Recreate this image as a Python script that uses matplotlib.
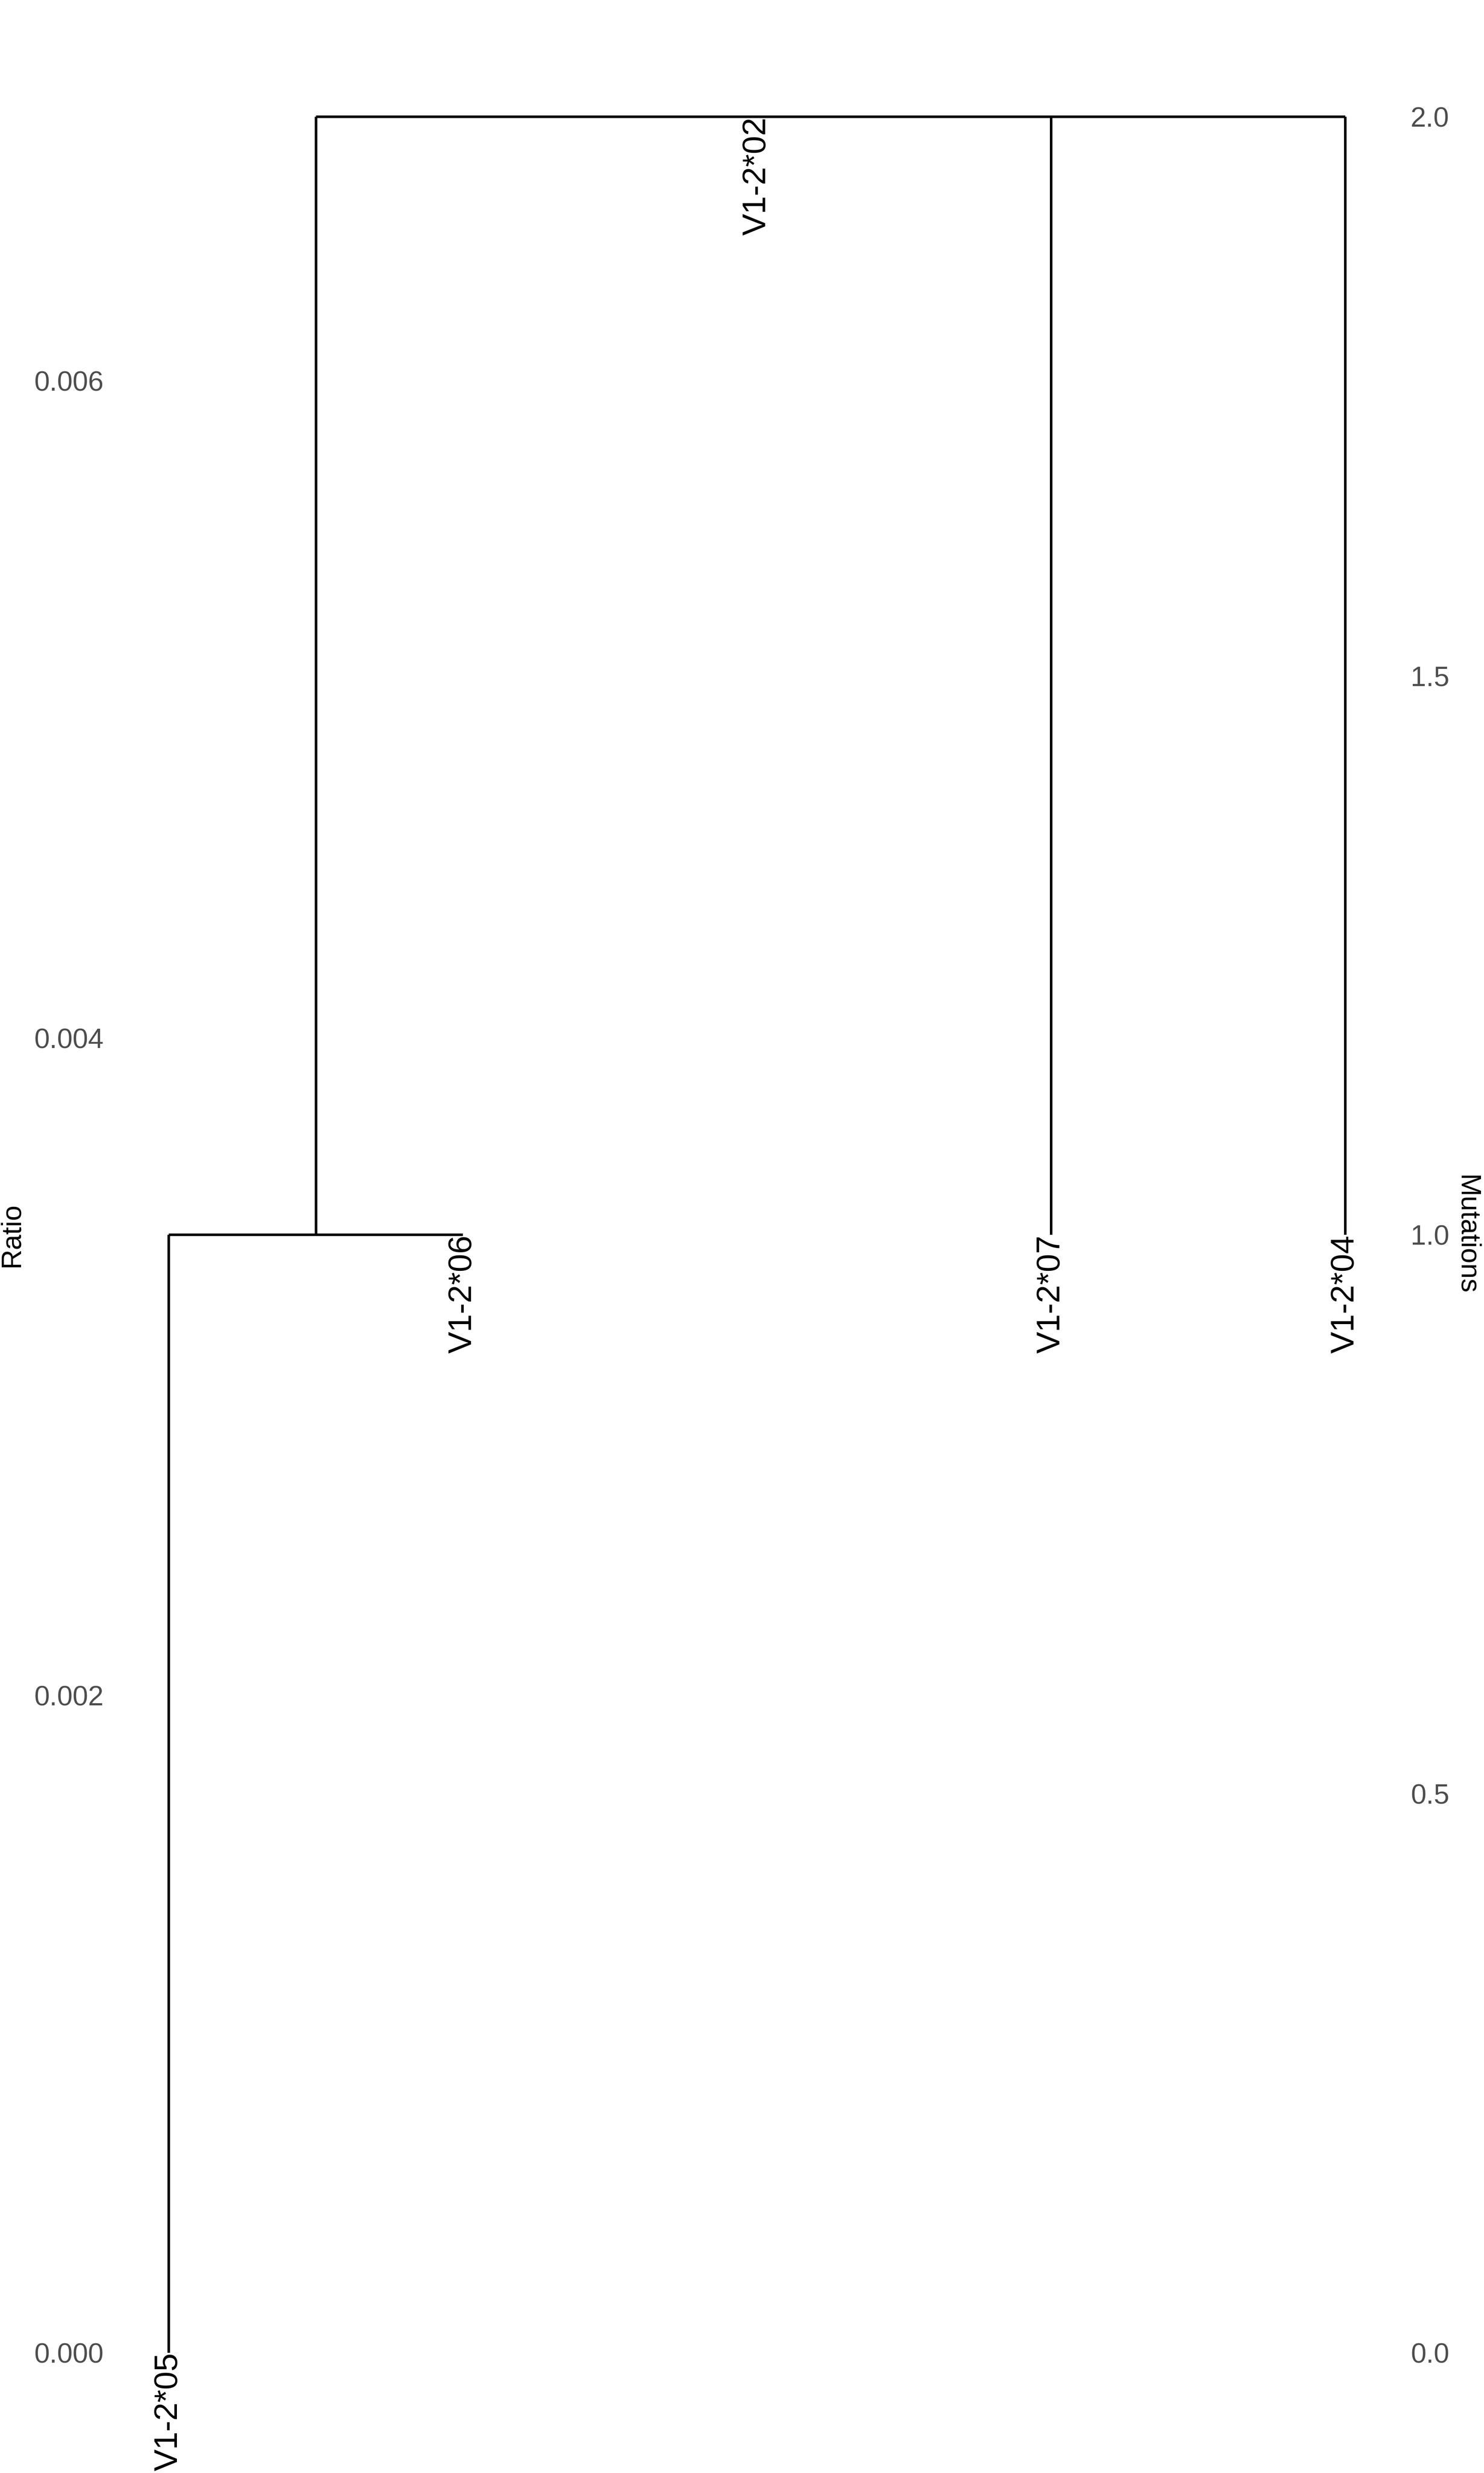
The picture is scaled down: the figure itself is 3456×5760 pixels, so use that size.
import matplotlib
matplotlib.use("Agg")
import matplotlib.pyplot as plt

plt.rcParams['font.family'] = ['Liberation Sans', 'DejaVu Sans']

# leaves of the tree (x order) and the height where each label hangs
leaves = ["V1-2*05", "V1-2*06", "V1-2*02", "V1-2*07", "V1-2*04"]
leaf_pos = [1, 2, 3, 4, 5]
leaf_height = [0, 1, 2, 1, 1]

# dendrogram segments, in mutations
seg_x = [1, 1, 1.5, 1.5, 4, 5]
seg_xend = [1, 2, 1.5, 5, 4, 5]
seg_y = [0, 1, 1, 2, 2, 2]
seg_yend = [1, 1, 2, 2, 1, 1]

seq_len = 294  # mutations -> ratio

W, H = 3456, 5760
fig = plt.figure(figsize=(W / 300, H / 300), dpi=300)
ax = fig.add_axes([256 / W, 20 / H, (3270 - 256) / W, (5740 - 12) / H])

for x0, x1, y0, y1 in zip(seg_x, seg_xend, seg_y, seg_yend):
    ax.plot([x0, x1], [y0, y1], color='black', lw=1.42, solid_capstyle='butt')

for name, x, h in zip(leaves, leaf_pos, leaf_height):
    ax.text(x, h, name, rotation=90, ha='center', va='top', fontsize=18.3,
            color='black', clip_on=False)

ax.set_xlim(0.8, 5.2)
ax.set_ylim(-0.1, 2.1)
ax.set_xticks([])
ax.yaxis.tick_right()
ax.yaxis.set_label_position('right')
ax.set_yticks([0, 0.5, 1.0, 1.5, 2.0])
ax.set_yticklabels(['0.0', '0.5', '1.0', '1.5', '2.0'])
ax.tick_params(axis='y', length=0, pad=3.6, labelsize=15.6, labelcolor='#4D4D4D')
ax.set_ylabel('Mutations', fontsize=15.4, rotation=-90, va='bottom', labelpad=2.4)
for s in ax.spines.values():
    s.set_visible(False)

sec = ax.secondary_yaxis('left', functions=(lambda m: m / seq_len, lambda r: r * seq_len))
sec.set_yticks([0.0, 0.002, 0.004, 0.006])
sec.set_yticklabels(['0.000', '0.002', '0.004', '0.006'])
sec.tick_params(axis='y', length=0, pad=3.4, labelsize=15.6, labelcolor='#4D4D4D')
sec.set_ylabel('Ratio', fontsize=15.4, labelpad=5.3)
for s in sec.spines.values():
    s.set_visible(False)

fig.savefig('out.png', dpi=300, facecolor='white')
